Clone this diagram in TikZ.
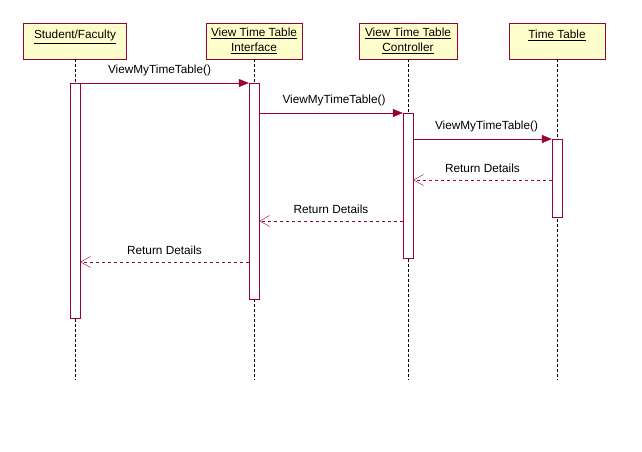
\documentclass[tikz,border=0pt]{standalone}
\usepackage{fontspec}
\setmainfont{Liberation Sans}
\usetikzlibrary{arrows.meta}
\definecolor{umlred}{RGB}{153,0,51}
\definecolor{umlfill}{RGB}{255,255,204}

\begin{document}
\begin{tikzpicture}[x=1pt, y=-1pt, font=\fontsize{11.8}{15}\selectfont,
    obj/.style={draw=umlred, fill=umlfill, minimum height=36pt, anchor=north, align=center, inner ysep=2pt},
    oneline/.style={text depth=13pt},
    life/.style={densely dashed, black},
    bar/.style={draw=umlred, fill=white, minimum width=10pt, inner sep=0pt, anchor=north},
    call/.style={umlred, text=black, -{Triangle[length=10pt, width=8pt]}},
    reply/.style={umlred, text=black, dashed, -{Straight Barb[length=10pt, width=11pt]}}]
    \useasboundingbox (0,0) rectangle (642,452);

    % Objects
    \node[obj, oneline, minimum width=103pt] (sf) at (75,23) {\underline{Student/Faculty}};
    \node[obj, minimum width=96pt] (tti) at (254,23) {\underline{View Time Table}\\\underline{Interface}};
    \node[obj, minimum width=98pt] (ctl) at (408,23) {\underline{View Time Table}\\\underline{Controller}};
    \node[obj, oneline, minimum width=96pt] (tt) at (557,23) {\underline{Time Table}};

    % Lifelines
    \coordinate (sf-end) at (75,380);
    \coordinate (tti-end) at (254,380);
    \coordinate (ctl-end) at (408,380);
    \coordinate (tt-end) at (557,380);
    \draw[life] (sf) -- (sf-end);
    \draw[life] (tti) -- (tti-end);
    \draw[life] (ctl) -- (ctl-end);
    \draw[life] (tt) -- (tt-end);

    % Activation bars
    \node[bar, minimum height=235pt] (sf-bar) at (75,83) {};
    \node[bar, minimum height=216pt] (tti-bar) at (254,83) {};
    \node[bar, minimum height=145pt] (ctl-bar) at (408,113) {};
    \node[bar, minimum height=78pt] (tt-bar) at (557,139) {};

    % Rows of the messages
    \coordinate (m2) at (0,113);
    \coordinate (m3) at (0,139);
    \coordinate (r1) at (0,180);
    \coordinate (r2) at (0,221);
    \coordinate (r3) at (0,262);

    % Calls
    \draw[call] (sf-bar.north east) -- (tti-bar.north west)
        node[midway, above=4pt, xshift=-5pt] {ViewMyTimeTable()};
    \draw[call] (tti-bar.east |- m2) -- (ctl-bar.north west)
        node[midway, above=4pt, xshift=3pt] {ViewMyTimeTable()};
    \draw[call] (ctl-bar.east |- m3) -- (tt-bar.north west)
        node[midway, above=4pt, xshift=4pt] {ViewMyTimeTable()};

    % Replies
    \draw[reply] (tt-bar.west |- r1) -- (ctl-bar.east |- r1)
        node[midway, above=4pt] {Return Details};
    \draw[reply] (ctl-bar.west |- r2) -- (tti-bar.east |- r2)
        node[midway, above=4pt] {Return Details};
    \draw[reply] (tti-bar.west |- r3) -- (sf-bar.east |- r3)
        node[midway, above=4pt] {Return Details};
\end{tikzpicture}
\end{document}
